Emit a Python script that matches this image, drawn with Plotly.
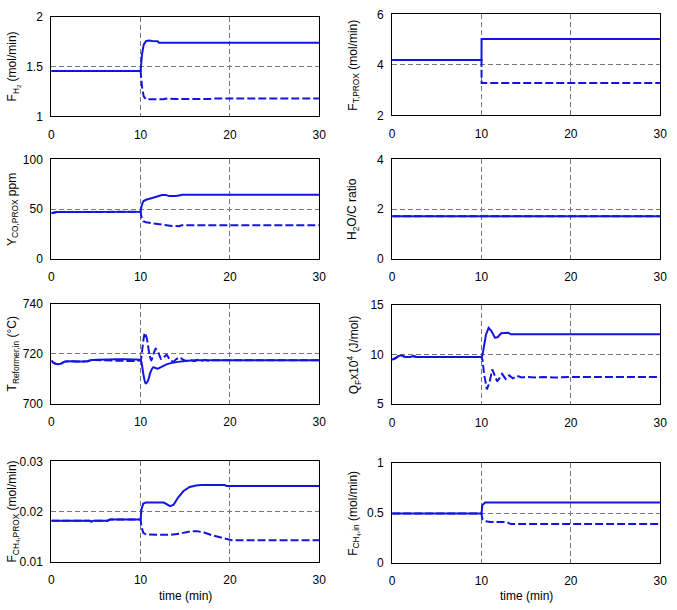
import plotly.graph_objects as go

W, H = 677, 610

# ---------------- data ----------------
# Panel 1: F_H2 (mol/min)
t_fh2_s = [0, 10, 10.15, 10.35, 10.6, 10.9, 11.3, 11.9, 12.05, 30]
y_fh2_s = [1.455, 1.455, 1.62, 1.72, 1.755, 1.762, 1.757, 1.755, 1.74, 1.74]
t_fh2_d = [0, 10, 10.15, 10.35, 10.6, 12.5, 13.0, 13.5, 14, 17.8, 18.2, 30]
y_fh2_d = [1.455, 1.455, 1.30, 1.20, 1.172, 1.172, 1.18, 1.178, 1.175, 1.175, 1.18, 1.18]

# Panel 2: F_T,PROX (mol/min)
t_ft_s = [0, 10, 10.01, 30]
y_ft_s = [4.19, 4.19, 5.02, 5.02]
t_ft_d = [0, 10, 10.01, 30]
y_ft_d = [4.19, 4.19, 3.28, 3.28]

# Panel 3: Y_CO,PROX ppm
t_yco_s = [0, 0.3, 0.6, 10, 10.1, 10.3, 10.6, 11.2, 11.8, 12.4, 12.8, 13.2, 14.0, 14.4, 14.7, 30]
y_yco_s = [46, 46.3, 47.3, 47.4, 53, 58, 59.5, 61, 62.5, 64.2, 64.4, 63.2, 63.2, 63.8, 64.5, 64.5]
t_yco_d = [0, 0.3, 0.6, 10, 10.1, 10.3, 10.6, 11.2, 11.8, 12.5, 13.5, 14.3, 14.6, 30]
y_yco_d = [46, 46.3, 47.3, 47.4, 42, 38, 37, 36, 35.2, 34.5, 33.2, 33, 34, 34]

# Panel 4: H2O/C ratio
t_hc_s = [0, 30]
y_hc_s = [1.72, 1.72]
t_hc_d = [0, 30]
y_hc_d = [1.72, 1.72]

# Panel 5: T_Reformer,in (°C)
t_tr_s = [0, 0.3, 0.7, 1.1, 1.5, 4.0, 4.5, 10, 10.1, 10.3, 10.55, 10.8, 11.1, 11.4, 11.9,
          12.4, 13, 13.7, 14.4, 15.2, 16, 30]
y_tr_s = [717.2, 716.2, 715.8, 716.0, 716.8, 716.9, 717.4, 717.4, 716.5, 712, 708.1, 709,
          712.5, 714.5, 714.0, 714.8, 715.8, 716.4, 716.8, 717.1, 717.3, 717.3]
t_tr_d = [0, 0.3, 0.7, 1.1, 1.5, 4.0, 4.5, 10, 10.1, 10.3, 10.47, 10.7, 11.0, 11.2, 11.5,
          11.7, 12.0, 12.3, 12.6, 12.9, 13.3, 13.7, 14.0, 14.4, 14.8, 15.2, 15.6, 16.0,
          16.4, 16.8, 17.2, 17.6, 18, 30]
y_tr_d = [717.2, 716.2, 715.8, 716.0, 716.8, 716.9, 717.4, 717.4, 719, 725, 728.3, 726,
          719.5, 717.2, 720.5, 722, 720.3, 717.8, 718.5, 719.5, 717.5, 716.8, 717.8, 718.4,
          717.5, 717.0, 717.4, 717.0, 717.5, 717.1, 717.5, 717.1, 717.3, 717.3]

# Panel 6: Q_F x10^4 (J/mol)
t_qf_s = [0, 0.3, 0.7, 1.0, 1.4, 2.0, 2.4, 2.7, 3.2, 10, 10.1, 10.3, 10.5, 10.8, 11.1,
          11.5, 11.8, 12.2, 12.6, 13.0, 13.3, 30]
y_qf_s = [9.5, 9.6, 9.85, 9.92, 9.78, 9.75, 9.85, 9.75, 9.75, 9.75, 9.9, 10.9, 12.0,
          12.7, 12.4, 11.7, 11.75, 12.15, 12.2, 12.2, 12.05, 12.05]
t_qf_d = [0, 0.3, 0.7, 1.0, 1.4, 2.0, 2.4, 2.7, 3.2, 10, 10.1, 10.3, 10.6, 10.9, 11.2,
          11.5, 11.75, 12.0, 12.3, 12.7, 13.1, 13.5, 14.0, 14.5, 15, 16, 17, 18, 19, 20, 30]
y_qf_d = [9.5, 9.6, 9.85, 9.92, 9.78, 9.75, 9.85, 9.75, 9.75, 9.75, 9.5, 8.0, 6.5, 7.2,
          8.5, 7.8, 7.3, 7.6, 8.05, 7.55, 7.9, 7.6, 7.85, 7.7, 7.75, 7.7, 7.75, 7.68,
          7.75, 7.75, 7.75]

# Panel 7: F_CH4,PROX (mol/min)
t_fcp_s = [0, 4.3, 4.5, 4.7, 6.3, 6.6, 10, 10.1, 10.3, 10.6, 12.6, 13.0, 13.3, 13.7, 14.2,
           14.8, 15.5, 16.2, 16.8, 19.4, 19.6, 30]
y_fcp_s = [0.0182, 0.0182, 0.0180, 0.0182, 0.0182, 0.01845, 0.01845, 0.0205, 0.0216,
           0.0218, 0.0218, 0.0213, 0.0211, 0.0214, 0.0228, 0.0241, 0.0249, 0.0252,
           0.0253, 0.0253, 0.0251, 0.0251]
t_fcp_d = [0, 4.3, 4.5, 4.7, 6.3, 6.6, 10, 10.1, 10.3, 10.6, 12.0, 13.3, 14.3, 15.0, 15.6,
           16.4, 17.2, 18.0, 18.8, 19.5, 20.2, 30]
y_fcp_d = [0.0182, 0.0182, 0.0180, 0.0182, 0.0182, 0.01845, 0.01845, 0.0170, 0.0158,
           0.0155, 0.0154, 0.0154, 0.0156, 0.0159, 0.0161, 0.0161, 0.0158, 0.0153,
           0.0149, 0.0146, 0.0143, 0.0143]

# Panel 8: F_CH4,in (mol/min)
t_fci_s = [0, 10, 10.1, 10.4, 30]
y_fci_s = [0.497, 0.497, 0.58, 0.607, 0.607]
t_fci_d = [0, 10, 10.1, 10.4, 11, 12.8, 13.3, 30]
y_fci_d = [0.497, 0.497, 0.44, 0.42, 0.41, 0.41, 0.39, 0.39]

x_ticks = [0, 10, 20, 30]
y_ranges = [[1, 2], [2, 6], [0, 100], [0, 4], [700, 740], [5, 15], [0.01, 0.03], [0, 1]]
y_ticks = [[1, 1.5, 2], [2, 4, 6], [0, 50, 100], [0, 2, 4], [700, 720, 740],
           [5, 10, 15], [0.01, 0.02, 0.03], [0, 0.5, 1]]
y_tick_text = [["1", "1.5", "2"], ["2", "4", "6"], ["0", "50", "100"], ["0", "2", "4"],
               ["700", "720", "740"], ["5", "10", "15"], ["0.01", "0.02", "0.03"],
               ["0", "0.5", "1"]]
y_titles = ["F<sub>H<sub>2</sub></sub> (mol/min)",
            "F<sub>T,PROX</sub> (mol/min)",
            "Y<sub>CO,PROX</sub> ppm",
            "H<sub>2</sub>O/C ratio",
            "T<sub>Reformer,in</sub> (°C)",
            "Q<sub>F</sub>x10<sup>4</sup> (J/mol)",
            "F<sub>CH<sub>4</sub>,PROX</sub> (mol/min)",
            "F<sub>CH<sub>4</sub>,in</sub> (mol/min)"]
x_title = "time (min)"

series = [
    (t_fh2_s, y_fh2_s, t_fh2_d, y_fh2_d),
    (t_ft_s, y_ft_s, t_ft_d, y_ft_d),
    (t_yco_s, y_yco_s, t_yco_d, y_yco_d),
    (t_hc_s, y_hc_s, t_hc_d, y_hc_d),
    (t_tr_s, y_tr_s, t_tr_d, y_tr_d),
    (t_qf_s, y_qf_s, t_qf_d, y_qf_d),
    (t_fcp_s, y_fcp_s, t_fcp_d, y_fcp_d),
    (t_fci_s, y_fci_s, t_fci_d, y_fci_d),
]
smooth_panels = {4}  # oscillating temperature transient drawn as spline

# ---------------- layout (pixel boxes of each panel) ----------------
# (left, right, top, bottom) in pixels
boxes = [
    (49, 321, 10, 112), (395, 667, 7.5, 111),
    (49, 321, 156, 258), (395, 667, 156, 258),
    (49, 321, 303.5, 406), (395, 667, 305, 406.5),
    (49, 321, 465, 568), (395, 667, 467, 569),
]

BLUE = "rgb(20,20,225)"
FONT = "Liberation Sans, Arial, sans-serif"

fig = go.Figure()
layout = dict(
    width=W, height=H, margin=dict(l=0, r=0, t=0, b=0),
    paper_bgcolor="white", plot_bgcolor="white", showlegend=False,
    font=dict(family=FONT, size=12, color="black"),
)
annotations = []
for i, (ts, ys, td, yd) in enumerate(series):
    k = i + 1
    xa = "x" if k == 1 else f"x{k}"
    ya = "y" if k == 1 else f"y{k}"
    shape = "spline" if i in smooth_panels else "linear"
    fig.add_trace(go.Scatter(x=td, y=yd, mode="lines", xaxis=xa, yaxis=ya,
                             line=dict(color=BLUE, width=2, dash="8px,3px",
                                       shape=shape, smoothing=0.6)))
    fig.add_trace(go.Scatter(x=ts, y=ys, mode="lines", xaxis=xa, yaxis=ya,
                             line=dict(color=BLUE, width=2, shape=shape, smoothing=0.6)))
    l, r, t, b = boxes[i]
    xdom = [l / W, r / W]
    ydom = [1 - b / H, 1 - t / H]
    common = dict(showline=True, linecolor="black", linewidth=1, mirror=True,
                  showgrid=True, gridcolor="rgb(120,120,120)", gridwidth=1,
                  griddash="5px,3px", zeroline=False, ticks="inside", ticklen=0,
                  tickfont=dict(family=FONT, size=12, color="black"))
    layout["xaxis" if k == 1 else f"xaxis{k}"] = dict(
        domain=xdom, anchor=ya, range=[0, 30], tickvals=x_ticks,
        ticklabelstandoff=7, **common)
    layout["yaxis" if k == 1 else f"yaxis{k}"] = dict(
        domain=ydom, anchor=xa, range=y_ranges[i], tickvals=y_ticks[i],
        ticktext=y_tick_text[i], ticklabelstandoff=5, **common)
    title_x = 10 if i % 2 == 0 else 356
    annotations.append(dict(
        text=y_titles[i], xref="paper", yref="paper", x=title_x / W,
        y=(ydom[0] + ydom[1]) / 2, xanchor="center", yanchor="middle",
        textangle=-90, showarrow=False, font=dict(family=FONT, size=12, color="black")))
    if i >= 6:
        annotations.append(dict(
            text=x_title, xref="paper", yref="paper", x=(xdom[0] + xdom[1]) / 2,
            y=1 - 603 / H, xanchor="center", yanchor="middle", showarrow=False,
            font=dict(family=FONT, size=12, color="black")))

layout["annotations"] = annotations
fig.update_layout(**layout)
fig.write_html("out.html")
